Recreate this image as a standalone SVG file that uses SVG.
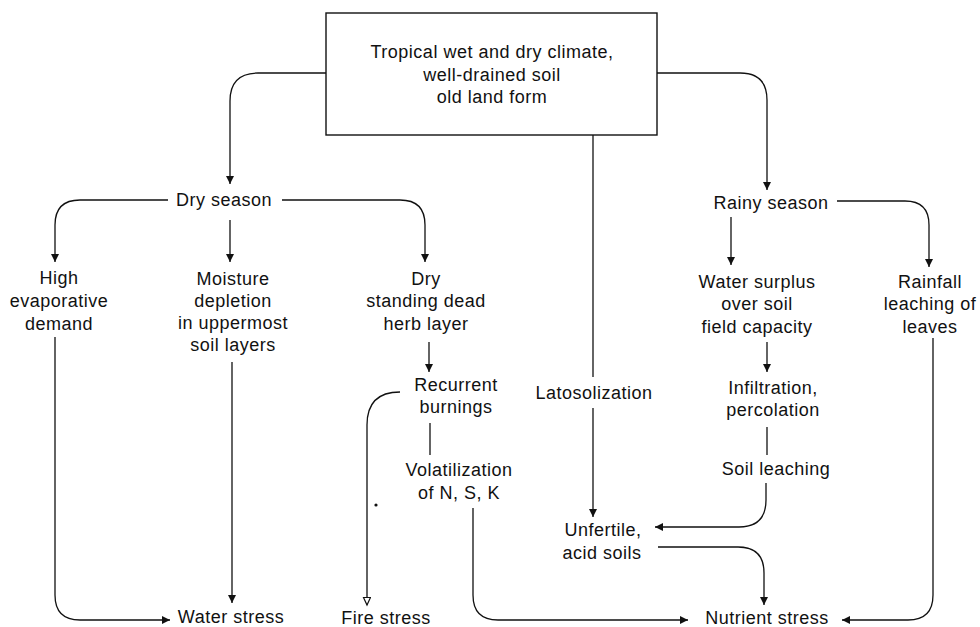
<svg xmlns="http://www.w3.org/2000/svg" width="980" height="627" viewBox="0 0 980 627">
<style>
text{font-family:"Liberation Sans",Arial,sans-serif;font-size:18px;letter-spacing:0.5px;fill:#111;text-anchor:middle}
.c{fill:none;stroke:#111;stroke-width:1.3}
.box{fill:#fff;stroke:#111;stroke-width:1.4}
</style>
<defs>
<marker id="a" markerUnits="userSpaceOnUse" markerWidth="9" markerHeight="9" refX="8" refY="4" orient="auto"><path d="M0,0 L8,4 L0,8 Z" fill="#111"/></marker>
<marker id="o" markerUnits="userSpaceOnUse" markerWidth="10" markerHeight="10" refX="8" refY="4" orient="auto"><path d="M0.5,0.5 L8,4 L0.5,7.5 Z" fill="#fff" stroke="#111" stroke-width="1.2"/></marker>
</defs>
<g id="connectors">
<path class="c" d="M326,73 H258 Q230,73 230,101 V184" marker-end="url(#a)"/>
<path class="c" d="M657,73 H740 Q767,73 767,100 V190" marker-end="url(#a)"/>
<path class="c" d="M593,135 V377"/>
<path class="c" d="M593,408 V517" marker-end="url(#a)"/>
<path class="c" d="M168,200 H80 Q55,200 55,225 V262" marker-end="url(#a)"/>
<path class="c" d="M230,220 V262" marker-end="url(#a)"/>
<path class="c" d="M282,200 H400 Q425,200 425,225 V262" marker-end="url(#a)"/>
<path class="c" d="M55,337 V595 Q55,620 80,620 H170" marker-end="url(#a)"/>
<path class="c" d="M232,362 V603" marker-end="url(#a)"/>
<path class="c" d="M429,342 V372" marker-end="url(#a)"/>
<path class="c" d="M400,392 Q367,392 367,425 V605" marker-end="url(#o)"/>
<path class="c" d="M430,423 V455"/>
<path class="c" d="M473,508 V595 Q473,620 498,620 H688" marker-end="url(#a)"/>
<path class="c" d="M731,217 V265" marker-end="url(#a)"/>
<path class="c" d="M837,201 H905 Q929,201 929,225 V267" marker-end="url(#a)"/>
<path class="c" d="M767,342 V372" marker-end="url(#a)"/>
<path class="c" d="M767,427 V455"/>
<path class="c" d="M766,483 V500 Q766,527 739,527 H655" marker-end="url(#a)"/>
<path class="c" d="M658,547 H738 Q764,547 764,573 V605" marker-end="url(#a)"/>
<path class="c" d="M933,338 V595 Q933,620 908,620 H842" marker-end="url(#a)"/>
<circle cx="376" cy="505" r="1.6" fill="#111"/>
</g>
<g id="climate">
<rect class="box" x="326" y="13" width="331" height="122"/>
<text x="492" y="58">Tropical wet and dry climate,</text>
<text x="492" y="81">well-drained soil</text>
<text x="492" y="103">old land form</text>
</g>
<g id="dry-season"><text x="224" y="206">Dry season</text></g>
<g id="rainy-season"><text x="771" y="209">Rainy season</text></g>
<g id="high-evap"><text x="59" y="284">High</text><text x="59" y="307">evaporative</text><text x="59" y="330">demand</text></g>
<g id="moisture"><text x="233" y="285">Moisture</text><text x="233" y="307">depletion</text><text x="233" y="329">in uppermost</text><text x="233" y="351">soil layers</text></g>
<g id="dry-herb"><text x="426" y="285">Dry</text><text x="426" y="307">standing dead</text><text x="426" y="330">herb layer</text></g>
<g id="recurrent"><text x="456" y="391">Recurrent</text><text x="456" y="413">burnings</text></g>
<g id="volatilization"><text x="459" y="476">Volatilization</text><text x="459" y="499">of N, S, K</text></g>
<g id="latosolization"><text x="594" y="399">Latosolization</text></g>
<g id="water-surplus"><text x="757" y="288">Water surplus</text><text x="757" y="310">over soil</text><text x="757" y="333">field capacity</text></g>
<g id="rainfall"><text x="930" y="288">Rainfall</text><text x="930" y="310">leaching of</text><text x="930" y="333">leaves</text></g>
<g id="infiltration"><text x="773" y="394">Infiltration,</text><text x="773" y="416">percolation</text></g>
<g id="soil-leaching"><text x="776" y="475">Soil leaching</text></g>
<g id="unfertile"><text x="603" y="536">Unfertile,</text><text x="602" y="559">acid soils</text></g>
<g id="water-stress"><text x="231" y="623">Water stress</text></g>
<g id="fire-stress"><text x="386" y="624">Fire stress</text></g>
<g id="nutrient-stress"><text x="767" y="624">Nutrient stress</text></g>
</svg>
